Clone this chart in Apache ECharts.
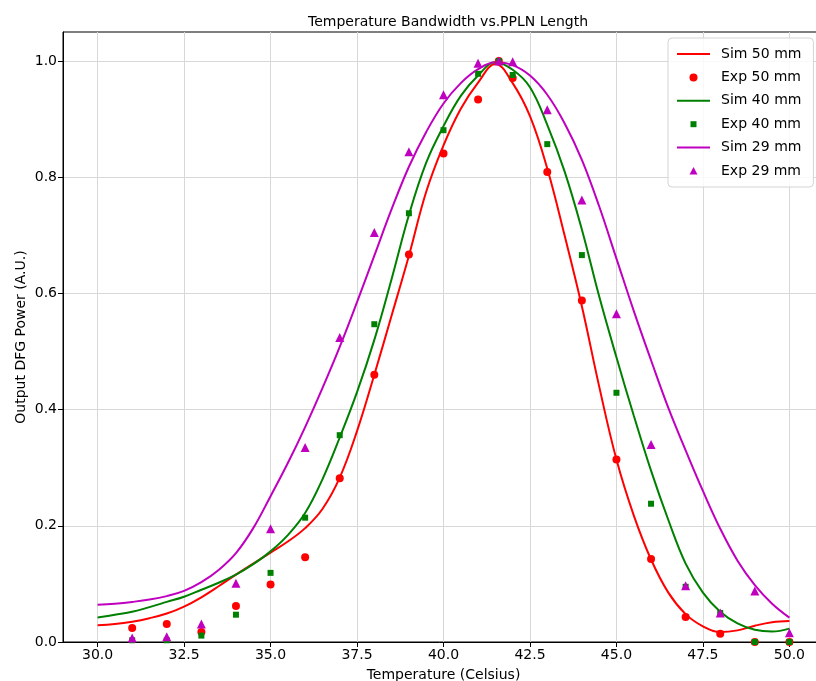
<!DOCTYPE html>
<html>
<head>
<meta charset="utf-8">
<script src="https://cdn.jsdelivr.net/npm/echarts@6/dist/echarts.min.js"></script>
<style>html,body{margin:0;padding:0;background:#fff}#c{width:816px;height:681px}</style>
</head>
<body>
<div id="c"></div>
<script>
// ---- data ----
const expTemps = [31, 32, 33, 34, 35, 36, 37, 38, 39, 40, 41, 41.6, 42, 43, 44, 45, 46, 47, 48, 49, 50];
const exp50 = [0.024, 0.031, 0.017, 0.062, 0.099, 0.146, 0.282, 0.46, 0.667, 0.841, 0.934, 1.0, 0.971, 0.809, 0.588, 0.314, 0.143, 0.043, 0.014, 0.0, 0.0];
const exp40 = [0.003, 0.003, 0.011, 0.047, 0.119, 0.214, 0.356, 0.547, 0.738, 0.881, 0.978, 1.0, 0.976, 0.857, 0.666, 0.429, 0.238, 0.095, 0.05, 0.0, 0.0];
const exp29 = [0.007, 0.009, 0.031, 0.101, 0.195, 0.335, 0.524, 0.705, 0.844, 0.942, 0.996, 1.0, 0.999, 0.916, 0.761, 0.565, 0.340, 0.097, 0.05, 0.088, 0.016];

const simTemps = [30, 30.5, 31, 31.5, 32, 32.5, 33, 33.5, 34, 34.5, 35, 35.5, 36, 36.5, 37, 37.5, 38, 38.5, 39, 39.5, 40,
                  40.5, 41, 41.5, 42, 42.5, 43, 43.5, 44, 44.5, 45, 45.5, 46, 46.5, 47, 47.5, 48, 48.5, 49, 49.5, 50];
const sim50 = [0.029, 0.031, 0.035, 0.041, 0.049, 0.061, 0.077, 0.096, 0.116, 0.135, 0.154, 0.173, 0.196, 0.229, 0.283, 0.363, 0.46, 0.562, 0.665, 0.775, 0.855,
               0.918, 0.963, 0.995, 0.962, 0.905, 0.815, 0.70, 0.578, 0.44, 0.314, 0.218, 0.142, 0.085, 0.048, 0.027, 0.017, 0.02, 0.028, 0.034, 0.036];
const sim40 = [0.042, 0.047, 0.052, 0.060, 0.069, 0.078, 0.090, 0.102, 0.116, 0.134, 0.156, 0.184, 0.222, 0.28, 0.352, 0.43, 0.52, 0.625, 0.735, 0.825, 0.888,
               0.94, 0.975, 0.998, 0.985, 0.955, 0.89, 0.81, 0.71, 0.595, 0.49, 0.39, 0.295, 0.21, 0.135, 0.085, 0.052, 0.032, 0.021, 0.018, 0.023];
const sim29 = [0.064, 0.066, 0.069, 0.073, 0.079, 0.088, 0.103, 0.124, 0.153, 0.196, 0.251, 0.308, 0.37, 0.437, 0.508, 0.585, 0.665, 0.745, 0.818, 0.878, 0.927,
               0.962, 0.986, 0.998, 0.993, 0.975, 0.942, 0.893, 0.83, 0.75, 0.66, 0.57, 0.485, 0.403, 0.33, 0.26, 0.195, 0.14, 0.098, 0.066, 0.042];

const xTicks = [30, 32.5, 35, 37.5, 40, 42.5, 45, 47.5, 50];
const yTicks = [0, 0.2, 0.4, 0.6, 0.8, 1.0];

const names = ['Sim 50 mm', 'Exp 50 mm', 'Sim 40 mm', 'Exp 40 mm', 'Sim 29 mm', 'Exp 29 mm'];
const RED = '#ff0000', GREEN = '#008000', MAG = '#bf00bf';

function pairs(xs, ys) { return xs.map((x, i) => [x, ys[i]]); }

const chart = echarts.init(document.getElementById('c'), null, { renderer: 'canvas' });
const FONT = 'DejaVu Sans';
const lineSeries = (name, ys, color) => ({
  name, type: 'line', data: pairs(simTemps, ys), smooth: 0.4, symbol: 'none',
  lineStyle: { color, width: 2 }, itemStyle: { color }, z: 2, animation: false
});
const scatSeries = (name, ys, color, symbol, size) => ({
  name, type: 'scatter', data: pairs(expTemps, ys), symbol, symbolSize: size,
  itemStyle: { color, opacity: 1 }, z: 3, animation: false
});
const LINE_ICON = 'path://M0,0M33,14M0,6H33V8H0Z';

chart.setOption({
  animation: false,
  backgroundColor: '#fff',
  textStyle: { fontFamily: FONT },
  title: {
    text: 'Temperature Bandwidth vs.PPLN Length',
    left: 443, top: 10, textAlign: 'center',
    textStyle: { fontFamily: FONT, fontSize: 14, fontWeight: 'normal', color: '#000' }
  },
  grid: { left: 63, right: -8, top: 32, bottom: 39, show: true, borderColor: '#000', borderWidth: 1,
          backgroundColor: 'transparent', outerBoundsMode: 'none', containLabel: false },
  legend: {
    orient: 'vertical', left: 668, top: 38,
    padding: [9, 12, 9, 9], itemGap: 9.4, itemWidth: 33, itemHeight: 14,
    backgroundColor: 'rgba(255,255,255,0.85)', borderColor: '#d4d4d4', borderWidth: 1, borderRadius: 4,
    textStyle: { fontFamily: FONT, fontSize: 14, color: '#000', padding: [0, 0, 0, 6] },
    data: [
      { name: names[0], icon: LINE_ICON },
      { name: names[1], icon: 'path://M0,0M33,14M20.5,7A4,4,0,1,1,12.5,7A4,4,0,1,1,20.5,7Z' },
      { name: names[2], icon: LINE_ICON },
      { name: names[3], icon: 'path://M0,0M33,14M13.5,4H19.5V10H13.5Z' },
      { name: names[4], icon: LINE_ICON },
      { name: names[5], icon: 'path://M0,0M33,14M16.5,3L20.5,10.5L12.5,10.5Z' }
    ]
  },
  xAxis: {
    type: 'value', min: 29, max: 51,
    name: 'Temperature (Celsius)', nameLocation: 'middle', nameGap: 26,
    nameTextStyle: { fontFamily: FONT, fontSize: 14, color: '#000' },
    axisLine: { show: true, lineStyle: { color: '#000', width: 1 } },
    axisTick: { show: true, inside: false, length: 5, customValues: xTicks, lineStyle: { color: '#000' } },
    axisLabel: { customValues: xTicks, formatter: v => v.toFixed(1), fontSize: 14, color: '#000', margin: 6, fontFamily: FONT },
    splitLine: { show: true, lineStyle: { color: '#d8d8d8', width: 1 } }
  },
  yAxis: {
    type: 'value', min: 0, max: 1.05,
    name: 'Output DFG Power (A.U.)', nameLocation: 'middle', nameGap: 35, nameMoveOverlap: false,
    nameTextStyle: { fontFamily: FONT, fontSize: 14, color: '#000' },
    axisLine: { show: true, lineStyle: { color: '#000', width: 1 } },
    axisTick: { show: true, inside: false, length: 5, customValues: yTicks, lineStyle: { color: '#000' } },
    axisLabel: { customValues: yTicks, formatter: v => v.toFixed(1), fontSize: 14, color: '#000', margin: 6, fontFamily: FONT },
    splitLine: { show: true, lineStyle: { color: '#d8d8d8', width: 1 } }
  },
  series: [
    lineSeries(names[0], sim50, RED),
    scatSeries(names[1], exp50, RED, 'circle', 8),
    lineSeries(names[2], sim40, GREEN),
    scatSeries(names[3], exp40, GREEN, 'rect', 6),
    lineSeries(names[4], sim29, MAG),
    scatSeries(names[5], exp29, MAG, 'triangle', 9)
  ]
});
</script>
</body>
</html>
